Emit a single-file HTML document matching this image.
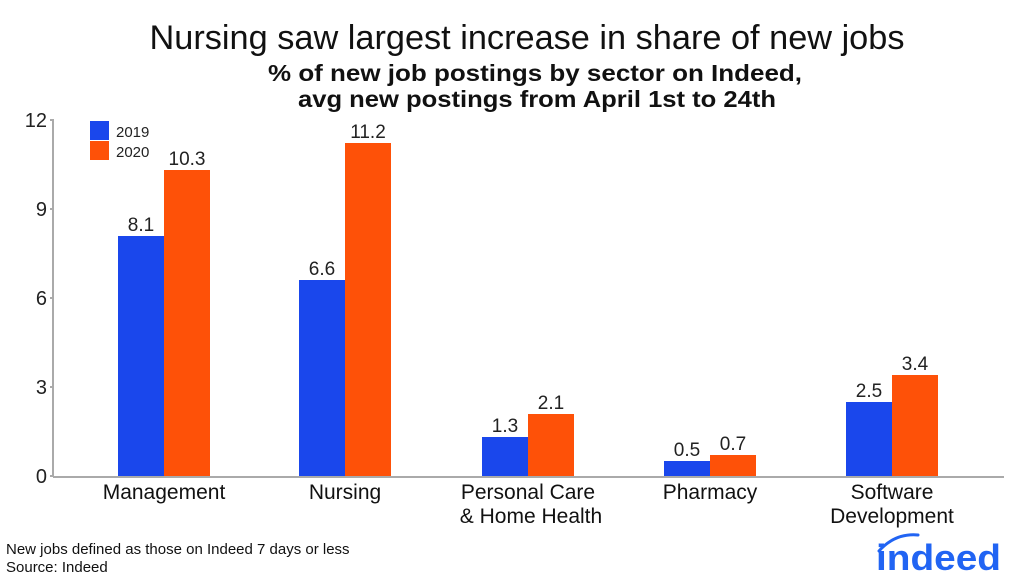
<!DOCTYPE html>
<html><head><meta charset="utf-8"><style>
body{margin:0;background:#fff;}
svg{display:block;font-family:"Liberation Sans",Helvetica,Arial,sans-serif;}
</style></head><body>
<svg width="1024" height="582" viewBox="0 0 1024 582">
<text x="527" y="49" text-anchor="middle" font-size="34" fill="#111" textLength="755" lengthAdjust="spacingAndGlyphs">Nursing saw largest increase in share of new jobs</text>
<text x="535" y="81" text-anchor="middle" font-size="23" font-weight="bold" fill="#111" textLength="534" lengthAdjust="spacingAndGlyphs">% of new job postings by sector on Indeed,</text>
<text x="537" y="107" text-anchor="middle" font-size="23" font-weight="bold" fill="#111" textLength="478" lengthAdjust="spacingAndGlyphs">avg new postings from April 1st to 24th</text>
<g stroke="#aaa" stroke-width="2" fill="none">
<line x1="53" y1="119" x2="53" y2="477"/>
<line x1="53" y1="477" x2="1004" y2="477"/>
<line x1="50" y1="120" x2="53" y2="120"/><line x1="50" y1="209" x2="53" y2="209"/><line x1="50" y1="298" x2="53" y2="298"/><line x1="50" y1="387" x2="53" y2="387"/><line x1="50" y1="476" x2="53" y2="476"/>
</g>
<g font-size="20" fill="#222" text-anchor="end">
<text x="47" y="127">12</text><text x="47" y="216">9</text><text x="47" y="305">6</text><text x="47" y="394">3</text><text x="47" y="483">0</text>
</g>
<rect x="90" y="121" width="19" height="19" fill="#1a47ec"/>
<rect x="90" y="141" width="19" height="19" fill="#fe5108"/>
<g font-size="15" fill="#222"><text x="116" y="137">2019</text><text x="116" y="157">2020</text></g>
<g fill="#1a47ec">
<rect x="118" y="236" width="46" height="240"/>
<rect x="299" y="280" width="46" height="196"/>
<rect x="482" y="437" width="46" height="39"/>
<rect x="664" y="461" width="46" height="15"/>
<rect x="846" y="402" width="46" height="74"/>
</g>
<g fill="#fe5108">
<rect x="164" y="170" width="46" height="306"/>
<rect x="345" y="143" width="46" height="333"/>
<rect x="528" y="414" width="46" height="62"/>
<rect x="710" y="455" width="46" height="21"/>
<rect x="892" y="375" width="46" height="101"/>
</g>
<g font-size="19" fill="#222" text-anchor="middle">
<text x="141" y="231">8.1</text><text x="187" y="165">10.3</text>
<text x="322" y="275">6.6</text><text x="368" y="138">11.2</text>
<text x="505" y="432">1.3</text><text x="551" y="409">2.1</text>
<text x="687" y="456">0.5</text><text x="733" y="450">0.7</text>
<text x="869" y="397">2.5</text><text x="915" y="370">3.4</text>
</g>
<g font-size="21" fill="#111" text-anchor="middle">
<text x="164" y="499">Management</text>
<text x="345" y="499">Nursing</text>
<text x="528" y="499">Personal Care</text><text x="531" y="523">&amp; Home Health</text>
<text x="710" y="499">Pharmacy</text>
<text x="892" y="499">Software</text><text x="892" y="523">Development</text>
</g>
<g font-size="15" fill="#111"><text x="6" y="554">New jobs defined as those on Indeed 7 days or less</text><text x="6" y="572">Source: Indeed</text></g>
<path d="M879 551 Q895 533 918 535" stroke="#2164f3" stroke-width="3" fill="none" stroke-linecap="round"/>
<text x="876" y="570" font-size="36" font-weight="bold" fill="#2164f3" textLength="125" lengthAdjust="spacingAndGlyphs">indeed</text>
</svg>
</body></html>
